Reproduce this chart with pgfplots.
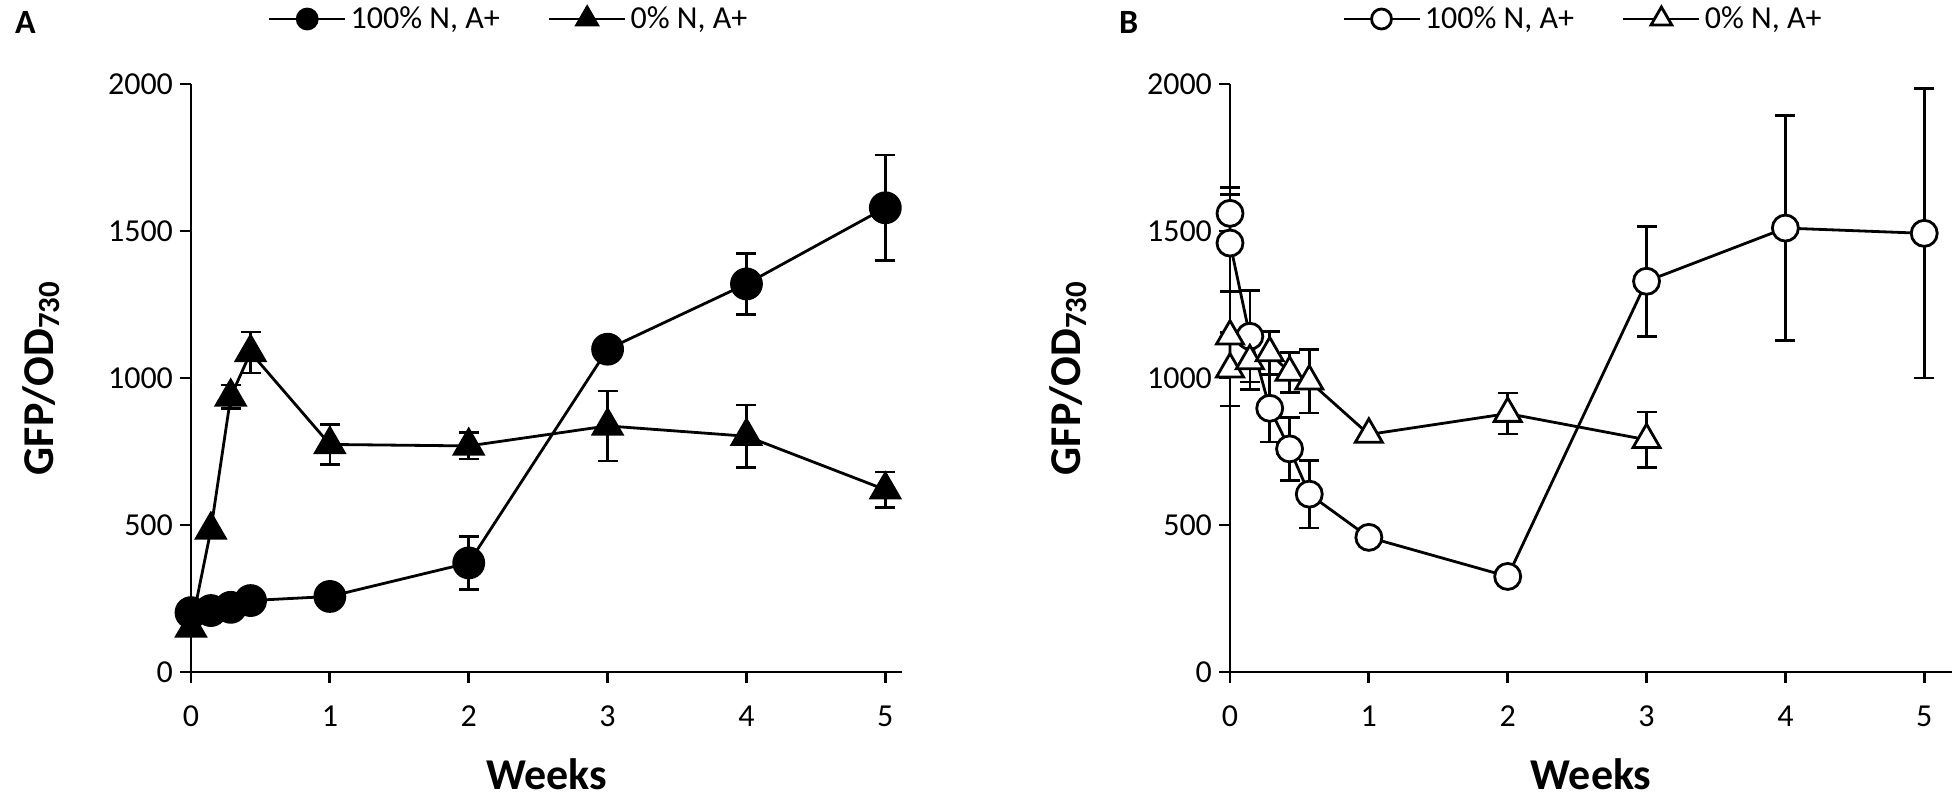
\documentclass[border=0pt]{standalone}
\usepackage{fontspec}
\setmainfont{Carlito}
\usepackage{pgfplots}
\usepackage{pgfplotstable}
\pgfplotsset{compat=1.18}

% Panel A: 100% N, A+ (filled circles)
\pgfplotstableread{
x y e
0 202 0
0.143 209 0
0.286 220 0
0.429 243 0
1 257 0
2 371 90
3 1098 0
4 1320 103
5 1579 180
}\Acirc
% Panel A: 0% N, A+ (filled triangles)
\pgfplotstableread{
x y e
0 150 0
0.143 483 0
0.286 936 40
0.429 1087 70
1 774 68
2 769 45
3 837 119
4 802 106
5 620 60
}\Atri
% Panel B: 100% N, A+ (open circles)
\pgfplotstableread{
x y e
0 1560 87
0 1459 165
0.143 1142 155
0.286 897 115
0.429 759 107
0.571 605 115
1 458 0
2 325 0
3 1329 187
4 1510 382
5 1492 492
}\Bcirc
% Panel B: 0% N, A+ (open triangles)
\pgfplotstableread{
x y e
0 1142 0
0 1030 125
0.143 1058 98
0.286 1085 73
0.429 1019 68
0.571 989 108
1 808 0
2 879 70
3 790 95
}\Btri

\pgfplotsset{
  panel/.style={
    scale only axis, height=294pt,
    xmin=0, ymin=0, ymax=2000,
    axis lines*=left,
    axis line style={line width=1.4pt},
    tick align=outside, major tick length=5.5pt,
    tick style={black, line width=1.4pt},
    xtick={0,1,2,3,4,5}, ytick={0,500,1000,1500,2000},
    ticklabel style={font=\fontsize{16}{19}\selectfont},
    xticklabel style={yshift=-8pt},
    /pgf/number format/assume math mode=true,
    /pgf/number format/1000 sep={},
    xlabel={\bfseries Weeks},
    ylabel={\bfseries GFP/OD\textsubscript{730}},
    label style={font=\fontsize{22}{26}\selectfont},
    xlabel style={at={(axis description cs:0.5,0)}, anchor=center, yshift=-51pt},
    clip=false,
    legend columns=2,
    legend cell align=left,
    legend style={draw=none, fill=none, font=\fontsize{16}{19}\selectfont,
      /tikz/every even column/.append style={column sep=22pt}},
    ebar/.style={draw=none, mark=none, forget plot,
      error bars/.cd, y dir=both, y explicit,
      error bar style={draw=black, line width=1.3pt, solid},
      error mark=-,
      error mark options={draw=black, line width=1.3pt, mark size=5pt, rotate=90}},
    line/.style={black, line width=1.4pt},
  }
}

\begin{document}
\begin{tikzpicture}
\path[use as bounding box] (0,0) rectangle (977.5pt,400pt);

\begin{axis}[panel, at={(95.5pt,64pt)}, anchor=south west,
  width=355.5pt, xmax=5.12,
  ylabel style={at={(axis description cs:-0.211,0.5)}, anchor=center},
  legend style={at={(axis description cs:0.448,1)}, anchor=center, yshift=32.5pt}]
\addplot[ebar] table[x=x, y=y, y error=e] {\Acirc};
\addplot[ebar] table[x=x, y=y, y error=e] {\Atri};
\addplot[line, mark=*, mark size=7.5pt, mark options={solid, fill=black},
  legend image code/.code={\draw[mark repeat=2, mark phase=2, mark size=5pt] plot coordinates {(0pt,0pt) (19pt,0pt) (38pt,0pt)};}]
  table[x=x, y=y] {\Acirc};
\addlegendentry{100\% N, A+}
\addplot[line, mark=triangle*, mark size=8.3pt, mark options={solid, fill=black},
  legend image code/.code={\draw[mark repeat=2, mark phase=2, mark size=6pt] plot coordinates {(0pt,0pt) (19pt,0pt) (38pt,0pt)};}]
  table[x=x, y=y] {\Atri};
\addlegendentry{0\% N, A+}
\end{axis}

\begin{axis}[panel, at={(615pt,64pt)}, anchor=south west,
  width=361pt, xmax=5.2,
  ylabel style={at={(axis description cs:-0.224,0.5)}, anchor=center},
  legend style={at={(axis description cs:0.49,1)}, anchor=center, yshift=32.5pt}]
\addplot[ebar] table[x=x, y=y, y error=e] {\Bcirc};
\addplot[ebar] table[x=x, y=y, y error=e] {\Btri};
\addplot[line, mark=*, mark size=6.5pt, mark options={solid, fill=white, draw=black},
  legend image code/.code={\draw[mark repeat=2, mark phase=2, mark size=5pt] plot coordinates {(0pt,0pt) (19pt,0pt) (38pt,0pt)};}]
  table[x=x, y=y] {\Bcirc};
\addlegendentry{100\% N, A+}
\addplot[line, mark=triangle*, mark size=7.8pt, mark options={solid, fill=white, draw=black},
  legend image code/.code={\draw[mark repeat=2, mark phase=2, mark size=6pt] plot coordinates {(0pt,0pt) (19pt,0pt) (38pt,0pt)};}]
  table[x=x, y=y] {\Btri};
\addlegendentry{0\% N, A+}
\end{axis}

\node[font=\fontsize{17}{20}\selectfont\bfseries, anchor=north west] at (4pt,398pt) {A};
\node[font=\fontsize{17}{20}\selectfont\bfseries, anchor=north west] at (556pt,398pt) {B};
\end{tikzpicture}
\end{document}
